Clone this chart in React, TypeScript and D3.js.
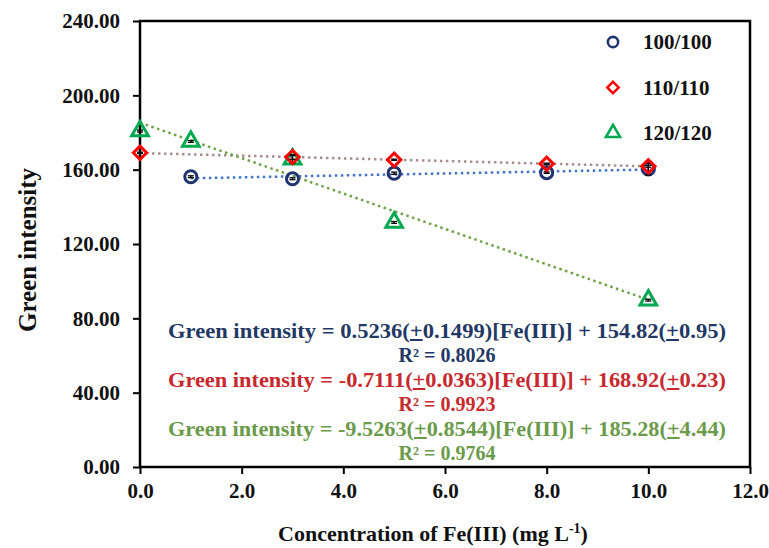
import React, { useRef, useEffect } from 'react';
import * as d3 from 'd3';

// concentrations (mg/L) and green intensity
const xBlue = [1, 3, 5, 8, 10];
const yBlue = [156.2, 155.1, 158.1, 158.4, 160.4];
const eBlue = [0.5, 0.5, 0.6, 0.4, 3.2];

const xRed = [0, 3, 5, 8, 10];
const yRed = [169.1, 166.8, 165.3, 163.2, 161.8];
const eRed = [0.3, 1.2, 0.3, 0.3, 0.5];

const xGreen = [0, 1, 3, 5, 10];
const yGreen = [180.8, 175.2, 165.6, 131.6, 89.8];
const eGreen = [0.5, 0.5, 2.0, 0.5, 0.5];

// trendline coefficients [slope, intercept]
const fitBlue = [0.5236, 154.82];
const fitRed = [-0.7111, 168.92];
const fitGreen = [-9.5263, 185.28];

const seriesNames = ['100/100', '110/110', '120/120'];
const xTicks = [0, 2, 4, 6, 8, 10, 12];
const yTicks = [0, 40, 80, 120, 160, 200, 240];

const equations = [
  { parts: ['Green intensity = 0.5236(', '+', '0.1499)[Fe(III)] + 154.82(', '+', '0.95)'], r2: 'R² = 0.8026', color: '#1f3864' },
  { parts: ['Green intensity = -0.7111(', '+', '0.0363)[Fe(III)] + 168.92(', '+', '0.23)'], r2: 'R² = 0.9923', color: '#c8282e' },
  { parts: ['Green intensity = -9.5263(', '+', '0.8544)[Fe(III)] + 185.28(', '+', '4.44)'], r2: 'R² = 0.9764', color: '#6b9a4b' },
];

export default function App() {
  const svgRef = useRef<SVGSVGElement>(null);

  useEffect(() => {
    const W = 769, H = 548;
    const margin = { top: 21, right: 19, bottom: 81, left: 140 };
    const width = W - margin.left - margin.right;
    const height = H - margin.top - margin.bottom;
    const font = '"Liberation Serif", "Times New Roman", serif';

    const root = d3.select(svgRef.current);
    root.selectAll('*').remove();
    root.append('rect').attr('width', W).attr('height', H).attr('fill', '#fff');

    const svg = root.append('g').attr('transform', 'translate(' + margin.left + ',' + margin.top + ')');

    const x = d3.scaleLinear().domain([0, 12]).range([0, width]);
    const y = d3.scaleLinear().domain([0, 240]).range([height, 0]);

    // frame
    svg.append('rect')
      .attr('width', width).attr('height', height)
      .attr('fill', 'none').attr('stroke', '#000').attr('stroke-width', 2.5);

    // axes
    const xAxis = svg.append('g')
      .attr('transform', 'translate(0,' + height + ')')
      .call(d3.axisBottom(x).tickValues(xTicks).tickSize(7).tickPadding(9).tickFormat(d3.format('.1f')));
    const yAxis = svg.append('g')
      .call(d3.axisLeft(y).tickValues(yTicks).tickSize(7).tickPadding(13).tickFormat(d3.format('.2f')));
    [xAxis, yAxis].forEach(a => {
      a.select('.domain').remove();
      a.selectAll('line').attr('stroke', '#000').attr('stroke-width', 2);
      a.selectAll('text')
        .attr('font-family', font).attr('font-weight', 'bold')
        .attr('font-size', '21px').attr('fill', '#111');
    });

    // trendlines
    const trend = (fit: number[], x0: number, x1: number, color: string) => {
      svg.append('line')
        .attr('x1', x(x0)).attr('y1', y(fit[0] * x0 + fit[1]))
        .attr('x2', x(x1)).attr('y2', y(fit[0] * x1 + fit[1]))
        .attr('stroke', color).attr('stroke-width', 2.5)
        .attr('stroke-dasharray', '2.5,3.5');
    };
    trend(fitRed, 0, 10, '#a88e8c');
    trend(fitBlue, 1, 10, '#4472c4');
    trend(fitGreen, 0, 10, '#70a049');

    // error bars
    const errBars = (xs: number[], ys: number[], es: number[]) => {
      xs.forEach((xv, i) => {
        const g = svg.append('g').attr('stroke', '#000').attr('stroke-width', 1.3);
        g.append('line').attr('x1', x(xv)).attr('x2', x(xv)).attr('y1', y(ys[i] - es[i])).attr('y2', y(ys[i] + es[i]));
        [ys[i] - es[i], ys[i] + es[i]].forEach(v => {
          g.append('line').attr('x1', x(xv) - 3).attr('x2', x(xv) + 3).attr('y1', y(v)).attr('y2', y(v));
        });
      });
    };

    const circle = d3.symbol().type(d3.symbolCircle).size(115);
    const diamond = d3.symbol().type(d3.symbolSquare).size(90);
    const triangle = d3.symbol().type(d3.symbolTriangle).size(120);

    const marks = (xs: number[], ys: number[], sym: any, color: string, rot = 0) => {
      svg.selectAll(null)
        .data(xs.map((xv, i) => [xv, ys[i]]))
        .enter()
        .append('path')
        .attr('d', sym())
        .attr('transform', d => 'translate(' + x(d[0]) + ',' + y(d[1]) + ') rotate(' + rot + ')')
        .attr('fill', 'none').attr('stroke', color).attr('stroke-width', 3);
    };

    marks(xBlue, yBlue, circle, '#1f3470');
    errBars(xBlue, yBlue, eBlue);
    marks(xGreen, yGreen, triangle, '#00a850');
    errBars(xGreen, yGreen, eGreen);
    marks(xRed, yRed, diamond, '#ff0000', 45);
    errBars(xRed, yRed, eRed);

    // legend
    const legendSyms = [
      { sym: circle, color: '#1f3470', rot: 0 },
      { sym: diamond, color: '#ff0000', rot: 45 },
      { sym: triangle, color: '#00a850', rot: 0 },
    ];
    seriesNames.forEach((name, i) => {
      const ly = 42 + i * 45.5 - margin.top;
      svg.append('path')
        .attr('d', legendSyms[i].sym())
        .attr('transform', 'translate(' + (613 - margin.left) + ',' + ly + ') rotate(' + legendSyms[i].rot + ') scale(0.85)')
        .attr('fill', 'none').attr('stroke', legendSyms[i].color).attr('stroke-width', 3);
      svg.append('text')
        .attr('x', 643 - margin.left).attr('y', ly + 7)
        .attr('font-family', font).attr('font-weight', 'bold').attr('font-size', '21px')
        .attr('fill', '#111').text(name);
    });

    // equations
    const cx = 447 - margin.left;
    equations.forEach((eq, i) => {
      const y1 = 338 + i * 49 - margin.top;
      const t = svg.append('text')
        .attr('x', cx).attr('y', y1)
        .attr('text-anchor', 'middle')
        .attr('font-family', font).attr('font-weight', 'bold').attr('font-size', '20px')
        .attr('fill', eq.color)
        .attr('textLength', 558).attr('lengthAdjust', 'spacingAndGlyphs');
      eq.parts.forEach(p => {
        const s = t.append('tspan').text(p);
        if (p === '+') s.attr('text-decoration', 'underline');
      });
      svg.append('text')
        .attr('x', cx).attr('y', y1 + 24)
        .attr('text-anchor', 'middle')
        .attr('font-family', font).attr('font-weight', 'bold').attr('font-size', '20px')
        .attr('fill', eq.color).text(eq.r2);
    });

    // axis titles
    const xt = root.append('text')
      .attr('x', 433).attr('y', 541)
      .attr('text-anchor', 'middle')
      .attr('font-family', font).attr('font-weight', 'bold').attr('font-size', '22px')
      .attr('fill', '#111');
    xt.append('tspan').text('Concentration  of Fe(III) (mg L');
    xt.append('tspan').attr('dy', -8).attr('font-size', '14px').text('-1');
    xt.append('tspan').attr('dy', 8).text(')');

    root.append('text')
      .attr('transform', 'translate(36,250) rotate(-90)')
      .attr('text-anchor', 'middle')
      .attr('font-family', font).attr('font-weight', 'bold').attr('font-size', '25px')
      .attr('fill', '#111').text('Green intensity');
  }, []);

  return (
    <svg ref={svgRef} width={769} height={548} style={{ position: 'absolute', left: 0, top: 0 }} />
  );
}
